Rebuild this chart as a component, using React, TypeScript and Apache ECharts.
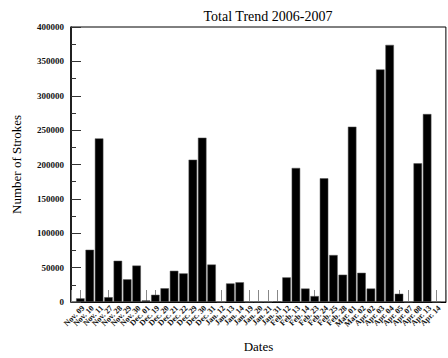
import React, { useEffect, useRef } from "react";
import * as echarts from "echarts";

const dateLabels: string[] = [
  "Nov. 09", "Nov. 10", "Nov. 11", "Nov. 27", "Nov. 28", "Nov. 29", "Nov. 30", "Dec. 01",
  "Dec. 19", "Dec. 20", "Dec. 21", "Dec. 22", "Dec. 29", "Dec. 30", "Dec. 31", "Jan. 12",
  "Jan. 13", "Jan. 14", "Jan. 19", "Jan. 20", "Jan. 21", "Jan. 31", "Feb. 12", "Feb. 13",
  "Feb. 14", "Feb. 23", "Feb. 24", "Feb. 25", "Feb. 28", "Mar. 01", "Mar. 02", "Apr. 02",
  "Apr. 03", "Apr. 04", "Apr. 05", "Apr. 07", "Apr. 08", "Apr. 13", "Apr. 14",
];

const strokes: number[] = [
  5300, 76000, 238000, 7000, 60000, 33000, 53000, 2400,
  10500, 20000, 45400, 41600, 207000, 239000, 54500, 0,
  27000, 28700, 0, 0, 0, 1000, 35800, 195000,
  19600, 8600, 180000, 68300, 39700, 255000, 42500, 19600,
  338300, 374000, 12000, 0, 201700, 273400, 0,
];

const yTicks = { min: 0, max: 400000, interval: 50000 };

const FONT = "Liberation Serif";

export default function App() {
  const ref = useRef<HTMLDivElement>(null);

  useEffect(() => {
    document.body.style.margin = "0";
    document.body.style.overflow = "hidden";
    if (!ref.current) return;
    const chart = echarts.init(ref.current, null, { renderer: "svg" });
    const n = dateLabels.length;
    chart.setOption({
      animation: false,
      backgroundColor: "#fff",
      textStyle: { fontFamily: FONT },
      title: {
        text: "Total Trend 2006-2007",
        left: 263,
        top: 4,
        textAlign: "center",
        textStyle: { fontFamily: FONT, fontSize: 14, fontWeight: "normal", color: "#000" },
      },
      grid: {
        left: 71,
        top: 27,
        bottom: 52,
        right: -8,
        show: true,
        borderColor: "#000",
        borderWidth: 1,
        backgroundColor: "transparent",
      },
      xAxis: {
        type: "value",
        min: 0,
        max: n + 1,
        interval: 1,
        name: "Dates",
        nameLocation: "middle",
        nameGap: 38,
        nameTextStyle: { fontFamily: FONT, fontSize: 13, color: "#000" },
        splitLine: { show: false },
        axisLine: { show: true, lineStyle: { color: "#000", width: 1 } },
        axisTick: { show: true, inside: true, length: 12, lineStyle: { color: "#888", width: 1 } },
        axisLabel: {
          rotate: 45,
          margin: 2,
          verticalAlign: "top",
          fontFamily: FONT,
          fontSize: 8,
          fontWeight: "bold",
          color: "#111",
          formatter: (v: number) => (v >= 1 && v <= n ? dateLabels[v - 1] : ""),
        },
      },
      yAxis: {
        type: "value",
        min: yTicks.min,
        max: yTicks.max,
        interval: yTicks.interval,
        name: "Number of Strokes",
        nameLocation: "middle",
        nameGap: 48,
        nameTextStyle: { fontFamily: FONT, fontSize: 13, color: "#000" },
        splitLine: { show: false },
        axisLine: { show: true, lineStyle: { color: "#000", width: 1.5 } },
        axisTick: { show: true, inside: true, length: 10, lineStyle: { color: "#333", width: 1 } },
        minorTick: { show: true, splitNumber: 2, length: 5, lineStyle: { color: "#333", width: 1 } },
        axisLabel: {
          margin: 7,
          fontFamily: FONT,
          fontSize: 9,
          fontWeight: "bold",
          color: "#111",
          formatter: (v: number) => String(v),
        },
      },
      series: [
        {
          type: "bar",
          data: strokes.map((v, i) => [i + 1, v]),
          barWidth: 8.5,
          itemStyle: { color: "#000", borderColor: "#555", borderWidth: 0.5 },
        },
      ],
    });
    return () => chart.dispose();
  }, []);

  return <div ref={ref} style={{ width: 448, height: 358 }} />;
}
